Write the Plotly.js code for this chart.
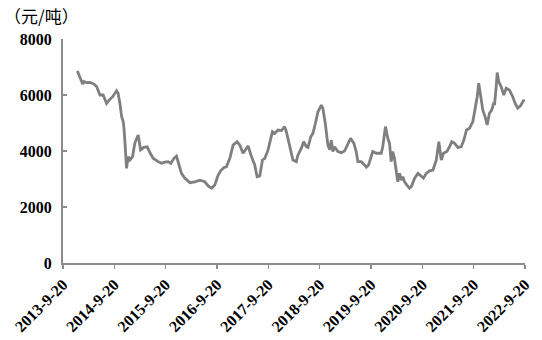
<!DOCTYPE html>
<html>
<head>
<meta charset="utf-8">
<script src="https://cdn.plot.ly/plotly-3.0.1.min.js"></script>
<style>html,body{margin:0;padding:0;background:#fff}#chart{width:542px;height:340px}</style>
</head>
<body>
<div id="chart"></div>
<script>
const unitLabel = "（元/吨）";
const tickDates = ["2013-09-20","2014-09-20","2015-09-20","2016-09-20","2017-09-20","2018-09-20","2019-09-20","2020-09-20","2021-09-20","2022-09-20"];
const tickLabels = ["2013-9-20","2014-9-20","2015-9-20","2016-9-20","2017-9-20","2018-9-20","2019-9-20","2020-9-20","2021-9-20","2022-9-20"];
const yTicks = [0, 2000, 4000, 6000, 8000];

const dates = [
"2013-12-31","2014-01-19","2014-02-07","2014-02-16","2014-03-07","2014-03-31","2014-04-28","2014-05-17","2014-06-10","2014-07-03",
"2014-07-27","2014-08-15","2014-09-08","2014-10-06","2014-10-17","2014-10-30","2014-11-11","2014-11-22","2014-11-27","2014-12-04",
"2014-12-11","2014-12-16","2014-12-28","2015-01-09","2015-01-28","2015-02-13","2015-03-09","2015-03-26","2015-04-18","2015-05-12",
"2015-05-31","2015-06-23","2015-07-29","2015-08-22","2015-09-14","2015-10-08","2015-10-27","2015-11-19","2015-12-06","2015-12-18",
"2016-01-11","2016-02-03","2016-03-11","2016-04-15","2016-05-21","2016-06-25","2016-07-19","2016-08-12","2016-09-04","2016-09-28",
"2016-10-17","2016-11-07","2016-11-26","2016-12-20","2017-01-12","2017-02-10","2017-03-01","2017-03-24","2017-04-12","2017-04-29",
"2017-05-23","2017-06-15","2017-07-02","2017-07-21","2017-08-09","2017-08-26","2017-09-18","2017-09-30","2017-10-19","2017-11-04",
"2017-11-28","2017-12-22","2018-01-14","2018-01-26","2018-02-19","2018-03-14","2018-04-07","2018-04-18","2018-05-13","2018-05-29",
"2018-06-18","2018-06-29","2018-07-19","2018-08-03","2018-08-21","2018-09-08","2018-10-02","2018-10-13","2018-10-30","2018-11-18",
"2018-11-30","2018-12-12","2018-12-23","2019-01-04","2019-01-28","2019-02-21","2019-03-16","2019-04-04","2019-04-28","2019-05-21",
"2019-06-07","2019-06-19","2019-07-13","2019-08-06","2019-08-18","2019-09-03","2019-09-22","2019-10-03","2019-10-28","2019-12-02",
"2019-12-13","2020-01-01","2020-01-18","2020-01-30","2020-02-11","2020-02-22","2020-03-05","2020-03-17","2020-03-29","2020-04-11",
"2020-04-23","2020-05-04","2020-05-16","2020-06-01","2020-06-20","2020-07-03","2020-07-27","2020-08-19","2020-09-12","2020-09-28",
"2020-10-17","2020-11-10","2020-12-04","2020-12-28","2021-01-15","2021-02-01","2021-02-17","2021-03-13","2021-04-01","2021-04-17",
"2021-05-06","2021-05-30","2021-06-23","2021-07-12","2021-07-31","2021-08-21","2021-09-14","2021-09-30","2021-10-15","2021-10-26",
"2021-11-07","2021-11-24","2021-12-10","2021-12-25","2022-01-10","2022-01-26","2022-02-10","2022-02-15","2022-02-27","2022-03-06",
"2022-03-17","2022-04-03","2022-04-22","2022-05-09","2022-06-01","2022-06-25","2022-07-12","2022-07-30","2022-08-19","2022-09-11",
"2022-09-16"
];
const prices = [
6860,6650,6390,6480,6440,6450,6390,6300,6000,6000,
5700,5820,5940,6150,6060,5700,5230,5050,4870,4390,
3920,3380,3800,3680,3800,4280,4570,4040,4130,4150,
3950,3740,3620,3560,3600,3620,3560,3740,3820,3620,
3200,3030,2870,2900,2960,2900,2750,2670,2790,3140,
3300,3400,3440,3740,4210,4330,4210,3920,4040,4180,
3800,3500,3080,3110,3680,3740,4040,4280,4690,4630,
4750,4730,4870,4690,4150,3680,3620,3850,4100,4330,
4150,4130,4510,4630,4990,5400,5640,5520,4990,4210,
4040,4390,3980,4150,3980,3940,4000,4210,4450,4280,
3980,3620,3620,3500,3420,3500,3800,3980,3920,3920,
4150,4870,4450,4280,3620,3980,3740,3320,2900,3200,
2960,3080,2900,2790,2670,2730,3030,3200,3080,3030,
3200,3290,3320,3680,4330,3680,3920,3980,4150,4330,
4280,4130,4150,4390,4750,4810,5050,5460,5940,6420,
5940,5460,5230,4930,5350,5460,5730,5640,6300,6800,
6480,6300,6000,6240,6180,5940,5700,5530,5610,5820,
5760
];

const tickFont = {family: "Liberation Serif, Times New Roman, serif", size: 16, color: "#000", weight: "bold"};

Plotly.newPlot("chart", [{
  x: dates, y: prices, type: "scatter", mode: "lines",
  line: {color: "#7f7f7f", width: 2.8}, hoverinfo: "skip"
}], {
  width: 542, height: 340,
  margin: {l: 63, r: 17, t: 39, b: 77, pad: 0},
  paper_bgcolor: "#fff", plot_bgcolor: "#fff",
  showlegend: false,
  xaxis: {
    type: "date", range: ["2013-09-20", "2022-09-20"],
    tickmode: "array", tickvals: tickDates, ticktext: tickLabels,
    tickangle: -45, tickfont: tickFont,
    showgrid: false, zeroline: false,
    showline: true, linecolor: "#8c8c8c", linewidth: 2,
    ticks: "outside", ticklen: 4, tickwidth: 1.5, tickcolor: "#8c8c8c"
  },
  yaxis: {
    range: [0, 8000], tickmode: "array", tickvals: yTicks,
    tickfont: tickFont, showgrid: false, zeroline: false,
    showline: true, linecolor: "#8c8c8c", linewidth: 2,
    ticks: "inside", ticklen: 4, tickwidth: 1.5, tickcolor: "#8c8c8c",
    ticklabelstandoff: 6
  },
  annotations: [{
    text: unitLabel, xref: "paper", yref: "paper",
    x: -0.132, y: 1.105, xanchor: "left", yanchor: "middle",
    showarrow: false,
    font: {family: "Noto Sans CJK SC", size: 17, color: "#000"}
  }]
}, {staticPlot: true});
</script>
</body>
</html>
